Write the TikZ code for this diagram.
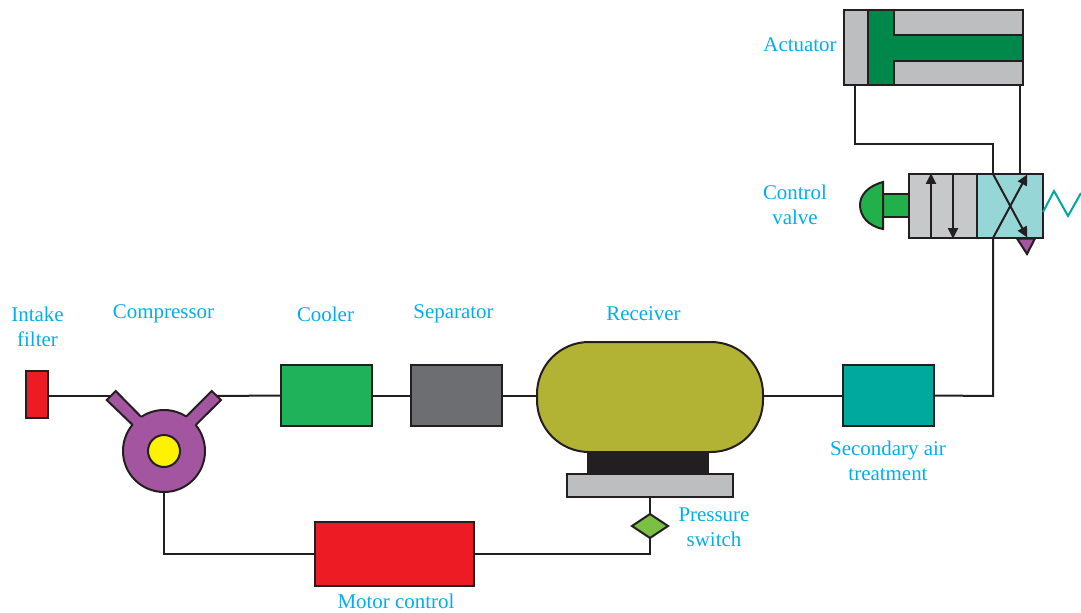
\documentclass[tikz,border=0pt]{standalone}
\usepackage{fontspec}
\setmainfont{Liberation Serif}
\usetikzlibrary{shapes.geometric,arrows.meta}
\definecolor{ink}{HTML}{231F20}
\definecolor{lbl}{HTML}{00AEEF}
\definecolor{cred}{HTML}{ED1C24}
\definecolor{cpurple}{HTML}{A3559F}
\definecolor{cyellow}{HTML}{FFF200}
\definecolor{ccool}{HTML}{1FB25A}
\definecolor{csep}{HTML}{6D6E71}
\definecolor{crec}{HTML}{B2B235}
\definecolor{cgray}{HTML}{BCBEC0}
\definecolor{cvgray}{HTML}{C7C8CA}
\definecolor{csec}{HTML}{00A99D}
\definecolor{cdia}{HTML}{7AC143}
\definecolor{cbtn}{HTML}{22B04B}
\definecolor{cact}{HTML}{00874A}
\definecolor{cteal}{HTML}{96D6D6}
\tikzset{
  wire/.style={draw=ink,line width=1.5pt,line join=miter},
  part/.style={draw=ink,line width=1.5pt,rectangle,inner sep=0pt,outer sep=0pt},
  size/.style 2 args={minimum width=#1*0.75pt,minimum height=#2*0.75pt},
  lab/.style={text=lbl,align=center,inner sep=0pt,font=\fontsize{15.7}{18.75}\selectfont},
  flow/.style={draw=ink,line width=1.5pt,-{Triangle[length=8pt,width=7.5pt]},shorten >=-0.5pt},
}
\begin{document}
\begin{tikzpicture}[x=0.75pt,y=-0.75pt]
\useasboundingbox (0,0) rectangle (1081,613);
% anchor points of the connectors
\coordinate (portL) at (112,396);
\coordinate (portR) at (216,396);
\coordinate (aL) at (855,85);
\coordinate (aR) at (1020,85);
\coordinate (vTop1) at (993,174);
\coordinate (vTop2) at (1020,174);
\coordinate (vBot) at (993,238);
\coordinate (bendA) at (855,144);
\coordinate (bendB) at (993,144);
\coordinate (bendC) at (993,396);
\coordinate (plateB) at (650,497);
% components
\node[part,fill=cred,size={22}{47}] (filter) at (37,394.5) {};
\node[part,fill=ccool,size={91}{61}] (cooler) at (326.5,395.5) {};
\node[part,fill=csep,size={91}{61}] (separator) at (456.5,395.5) {};
\node[part,fill=csec,size={91}{61}] (secondary) at (888.5,395.5) {};
\node[part,fill=crec,size={226}{110},rounded corners=39pt] (receiver) at (650,397) {};
\node[part,fill=ink,size={120}{23}] (base) at (648,463.5) {};
\node[part,fill=cgray,size={166}{23}] (plate) at (650,485.5) {};
\node[part,fill=cred,size={159}{64}] (motor) at (394.5,554) {};
\node[diamond,draw=ink,line width=1.5pt,fill=cdia,inner sep=0pt,outer sep=0pt,aspect=1.5,size={36}{24}] (switch) at (650,526) {};
\node[part,fill=cgray,size={179}{75}] (actuator) at (933.5,47.5) {};
\node[part,fill=cvgray,size={68}{64}] (valveL) at (943,206) {};
\node[part,fill=cteal,size={66}{64}] (valveR) at (1010,206) {};
\node[circle,draw=ink,line width=1.5pt,fill=cpurple,inner sep=0pt,outer sep=0pt,minimum size=61.5pt] (comp) at (164,451) {};
% connectors
\draw[wire] (filter.east |- portL) -- (portL);
\draw[wire] (portR) -- (cooler.west);
\draw[wire] (cooler.east) -- (separator.west);
\draw[wire] (separator.east) -- (receiver.west |- separator.east);
\draw[wire] (receiver.east |- secondary.west) -- (secondary.west);
\draw[wire] (secondary.east) -- (bendC) -- (vBot);
\draw[wire] (aL) -- (bendA) -- (bendB) -- (vTop1);
\draw[wire] (aR) -- (vTop2);
\draw[wire] (plateB) -- (switch.north);
\draw[wire] (switch.south) |- (motor.east);
\draw[wire] (motor.west) -| (comp.south);
% compressor ports and core
\fill[cpurple] (132.7,425) -- (106.7,400) -- (115.7,391) -- (141,416.7) -- (150,428) -- cycle;
\draw[wire] (132.7,425) -- (106.7,400) -- (115.7,391) -- (141,416.7);
\fill[cpurple] (195.7,425) -- (221,400) -- (211.7,391) -- (186,416.7) -- (178,428) -- cycle;
\draw[wire] (195.7,425) -- (221,400) -- (211.7,391) -- (186,416.7);
\node[circle,draw=ink,line width=1.5pt,fill=cyellow,inner sep=0pt,minimum size=24pt] (core) at (comp.center) {};
% actuator piston
\draw[wire,fill=cact] (868,10) -- (894,10) -- (894,35) -- (1023,35) -- (1023,61) -- (894,61) -- (894,85) -- (868,85) -- cycle;
% valve symbols
\coordinate (upB) at (931,238);
\coordinate (upT) at (931,174);
\coordinate (dnT) at (953,174);
\coordinate (dnB) at (953,238);
\coordinate (xA) at (1027,237);
\coordinate (xB) at (1027,175);
\draw[flow] (upB) -- (upT);
\draw[flow] (dnT) -- (dnB);
\draw[flow] (vTop1) -- (xA);
\draw[flow] (vBot) -- (xB);
\draw[wire,fill=cpurple] (1017,238.5) -- (1035,238.5) -- (1027,254) -- cycle;
\draw[csec,line width=1.5pt] (1043,212) -- (1054,191) -- (1068,216) -- (1081,193);
% push button
\draw[wire,fill=cbtn] (883,194) rectangle (909,217);
\draw[wire,fill=cbtn] (883,182) .. controls (868,186) and (860,195) .. (860,205) .. controls (860,216) and (868,226) .. (883,229) -- cycle;
% labels
\node[lab] (tActuator) at (800,45) {Actuator};
\node[lab] (tValve) at (795,205) {Control\\valve};
\node[lab] (tFilter) at (37.5,327) {Intake\\filter};
\node[lab] (tComp) at (163.5,314) {Compressor};
\node[lab] (tCooler) at (325.5,314) {Cooler};
\node[lab] (tSep) at (453.5,314) {Separator};
\node[lab] (tRec) at (643.5,314) {Receiver};
\node[lab] (tSec) at (888,461) {Secondary air\\treatment};
\node[lab] (tSwitch) at (714,527) {Pressure\\switch};
\node[lab] (tMotor) at (396,601) {Motor control};
\end{tikzpicture}
\end{document}
